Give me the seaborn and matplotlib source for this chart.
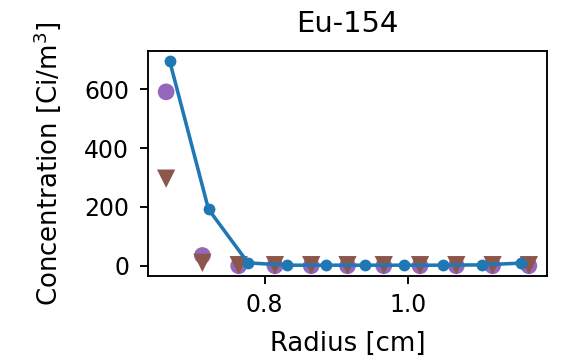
import matplotlib
matplotlib.use("Agg")
import matplotlib.pyplot as plt
import seaborn as sns
import numpy as np

# Data
title = "Eu-154"
xlabel = "Radius [cm]"
ylabel = "Concentration [Ci/m$^3$]"

line_r = [0.668, 0.722, 0.777, 0.831, 0.885, 0.940, 0.994, 1.048, 1.103, 1.157]
line_c = [695, 192, 10, 2, 2, 2, 2, 2, 3, 9]

circ_r = [0.663, 0.7135, 0.764, 0.8145, 0.865, 0.9155, 0.966, 1.0165, 1.067, 1.1175, 1.168]
circ_c = [591, 35, 0, 0, 0, 0, 0, 0, 0, 0, 0]

tri_r = [0.663, 0.7135, 0.764, 0.8145, 0.865, 0.9155, 0.966, 1.0165, 1.067, 1.1175, 1.168]
tri_c = [296, 10, 2, 2, 2, 2, 2, 2, 2, 2, 2]

xticks = [0.8, 1.0]
yticks = [0, 200, 400, 600]

dpi = 170
fig = plt.figure(figsize=(562 / dpi, 361 / dpi), dpi=dpi)
ax = fig.add_axes([148 / 562, 1 - 276 / 361, (547 - 148) / 562, (276 - 51) / 361])

sns.scatterplot(x=circ_r, y=circ_c, ax=ax, color="tab:purple", marker="o",
                s=50, edgecolor="none", linewidth=0, zorder=2)
sns.scatterplot(x=tri_r, y=tri_c, ax=ax, color="tab:brown", marker="v",
                s=60, edgecolor="none", linewidth=0, zorder=3)
sns.lineplot(x=line_r, y=line_c, ax=ax, color="tab:blue", marker=".",
             markersize=8.5, markeredgecolor="tab:blue", linewidth=1.5, zorder=4)

ax.set_xticks(xticks)
ax.set_yticks(yticks)
ax.tick_params(axis="y", pad=4.5)
ax.set_title(title, fontsize=12.3, pad=8)
ax.set_xlabel(xlabel, fontsize=11, labelpad=6)
ax.set_ylabel(ylabel, fontsize=11, labelpad=9)

fig.savefig("out.png", dpi=dpi)
